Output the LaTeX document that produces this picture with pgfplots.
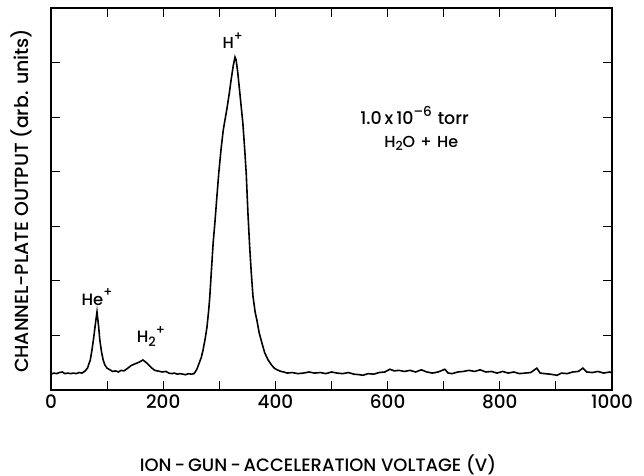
\documentclass[border=0pt]{standalone}
\usepackage{pgfplots}
\pgfplotsset{compat=1.18}
\usepackage{fontspec}
\setmainfont{Poppins}[UprightFont={* Medium}]
\newcommand{\up}[1]{\raisebox{0.5em}{\scalebox{0.78}{#1}}}
\newcommand{\dn}[1]{\raisebox{-0.22em}{\scalebox{0.78}{#1}}}
\begin{document}
\begin{tikzpicture}
\useasboundingbox (-51bp,-86bp) rectangle (593bp,390bp);
\begin{axis}[
  at={(0,0)}, anchor=south west,
  scale only axis, width=561bp, height=382bp,
  xmin=0, xmax=1000, ymin=0, ymax=7,
  xtick={0,200,...,1000}, minor xtick={100,300,...,900},
  ytick={1,...,6}, yticklabels={},
  tick align=inside, major tick length=9bp, minor tick length=9bp,
  axis line style={line width=1.4pt},
  tick style={line width=1.1pt, black},
  /pgf/number format/assume math mode=true,
  /pgf/number format/1000 sep={},
  ticklabel style={font=\fontsize{18.5}{20}\selectfont},
  xticklabel style={yshift=-1bp},
  xlabel={ION\,-\,GUN\,-\,ACCELERATION VOLTAGE (V)},
  ylabel={CHANNEL-PLATE OUTPUT (arb. units)},
  xlabel style={font=\fontsize{18}{20}\selectfont, at={(axis description cs:0.476,-0.195)}, anchor=center},
  ylabel style={font=\fontsize{19}{21}\selectfont, at={(axis description cs:-0.052,0.495)}, anchor=center},
  clip=false,
]
\addplot[black, line width=1.6pt] coordinates {
(0,0.29) (5,0.31) (10,0.30) (15,0.32) (20,0.33) (25,0.30) (30,0.31) (35,0.30)
(40,0.31) (45,0.30) (50,0.32) (55,0.31) (60,0.34) (65,0.40) (70,0.55) (73,0.73)
(76,0.95) (79,1.20) (82,1.43) (85,1.15) (87,0.92) (90,0.70) (93,0.55) (96,0.46)
(100,0.40) (105,0.37) (110,0.34) (115,0.35) (120,0.33) (125,0.36) (130,0.35)
(137,0.40) (143,0.45) (150,0.48) (157,0.51) (164,0.55) (170,0.50) (175,0.45)
(180,0.40) (185,0.36) (190,0.35) (198,0.33) (205,0.34) (210,0.31) (215,0.30)
(220,0.31) (225,0.29) (230,0.30) (235,0.29) (240,0.28) (245,0.30) (250,0.29)
(255,0.30) (257,0.33) (260,0.38) (264,0.49) (268,0.60) (271,0.73) (275,0.95)
(278,1.15) (281,1.45) (283,1.70) (286,2.20) (289,2.69) (292,3.05) (295,3.45)
(299,3.97) (303,4.40) (307,4.76) (311,5.00) (314,5.18) (318,5.45)
(321,5.68) (325,5.95) (328,6.10) (330,6.05) (333,5.81) (337,5.40) (342,4.89)
(345,4.45) (348,3.97) (351,3.25) (354,2.65) (357,2.15) (360,1.72) (364,1.42)
(367,1.28) (371,1.05) (376,0.86) (381,0.68) (387,0.55)
(393,0.46) (398,0.40) (403,0.37) (410,0.34) (415,0.33) (421,0.31) (430,0.32)
(440,0.30) (450,0.31) (460,0.33) (470,0.31) (480,0.32) (490,0.30) (500,0.33)
(510,0.31) (520,0.30) (530,0.32) (540,0.29) (550,0.28) (556,0.27) (565,0.30)
(575,0.29) (585,0.32) (595,0.33) (604,0.38) (612,0.35) (620,0.36) (630,0.34)
(640,0.36) (650,0.33) (660,0.37) (670,0.33) (680,0.31) (690,0.33) (702,0.38)
(708,0.31) (715,0.30) (725,0.33) (735,0.34) (745,0.36) (755,0.34) (765,0.37)
(775,0.33) (785,0.34) (795,0.31) (805,0.34) (815,0.31) (825,0.33) (835,0.30)
(845,0.31) (855,0.32) (866,0.40) (872,0.31) (880,0.30) (890,0.29) (902,0.27)
(910,0.31) (920,0.30) (930,0.33) (940,0.34) (948,0.40) (955,0.33) (965,0.32)
(975,0.34) (985,0.31) (996,0.33) (1000,0.31)
};
\node[anchor=south, font=\fontsize{16}{18}\selectfont] at (axis cs:324,6.2) {H\up{+}};
\node[anchor=center, font=\fontsize{16.5}{18}\selectfont] at (axis cs:82,1.70) {He\up{+}};
\node[anchor=center, font=\fontsize{16.5}{18}\selectfont] at (axis cs:178,0.98) {H\dn{2}\up{+}};
\node[anchor=center, font=\fontsize{17.5}{19}\selectfont] at (axis cs:648,5.03) {1.0\,x\,10\up{–6}\,\,torr};
\node[anchor=center, font=\fontsize{16}{18}\selectfont] at (axis cs:660,4.52) {H\dn{2}O\,\,+\,\,He};
\end{axis}
\end{tikzpicture}
\end{document}
